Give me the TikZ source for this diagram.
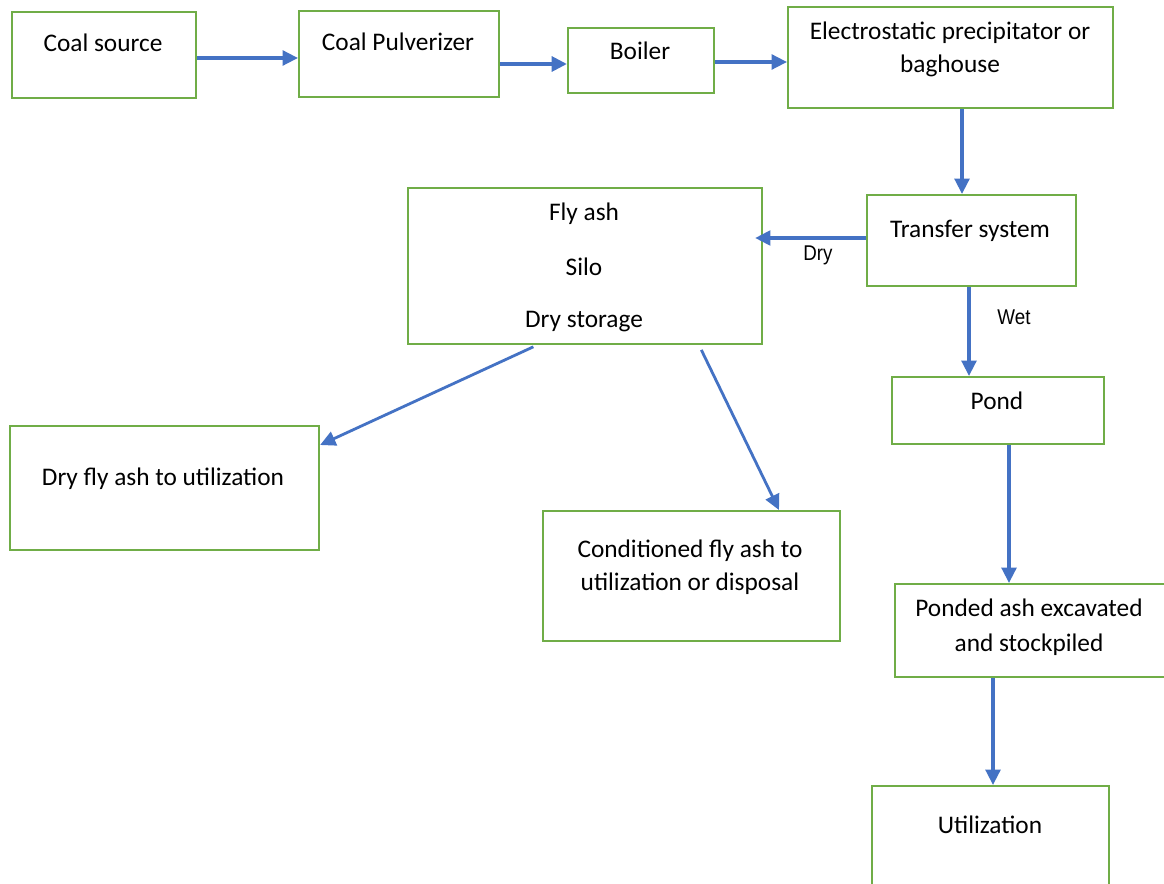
\documentclass[tikz,border=0pt]{standalone}
\usepackage{fontspec}
\setmainfont{Carlito}
\newfontfamily\narrowfont[FakeStretch=0.88]{Liberation Sans}
\usetikzlibrary{arrows.meta}
\definecolor{boxgreen}{HTML}{70AD47}
\definecolor{arrowblue}{HTML}{4472C4}
\tikzset{
  box/.style={draw=boxgreen, line width=1.6pt, anchor=north west, inner sep=0pt},
  bx/.style 2 args={minimum width=#1*0.75pt, minimum height=#2*0.75pt},
  txt/.style={anchor=base, font=\fontsize{19}{24.75}\selectfont, align=center, inner sep=0pt},
  flow/.style={draw=arrowblue, line width=2.5pt, -{Triangle[length=11.5pt,width=11pt]}},
  lbl/.style={anchor=base, font=\narrowfont\fontsize{16}{18}\selectfont, inner sep=0pt}
}
\begin{document}
\begin{tikzpicture}[x=0.75pt, y=-0.75pt]
\useasboundingbox[fill=white] (0,0) rectangle (1164,884);
% boxes
\node[box, bx={184}{86}] (cs) at (11,11) {};
\node[box, bx={200}{86}] (cp) at (298,10) {};
\node[box, bx={146}{65}] (bo) at (567,27) {};
\node[box, bx={325}{101}] (esp) at (787,6) {};
\node[box, bx={209}{91}] (ts) at (866,194) {};
\node[box, bx={354}{156}] (fa) at (407,187) {};
\node[box, bx={309}{124}] (dfa) at (9,425) {};
\node[box, bx={297}{130}] (cfa) at (542,510) {};
\node[box, bx={212}{67}] (pond) at (891,376) {};
\node[box, bx={270}{93}] (pae) at (894,583) {};
\node[box, bx={237}{130}] (util) at (871,785) {};
% texts
\node[txt] (tcs) at (103,52) {Coal source};
\node[txt] (tcp) at (398,51) {Coal Pulverizer};
\node[txt] (tbo) at (640,60) {Boiler};
\node[txt] (tesp1) at (950,40) {Electrostatic precipitator or};
\node[txt] (tesp2) at (950,73) {baghouse};
\node[txt] (tts) at (970,238) {Transfer system};
\node[txt] (tfa1) at (584,221) {Fly ash};
\node[txt] (tfa2) at (584,276) {Silo};
\node[txt] (tfa3) at (584,328) {Dry storage};
\node[txt] (tdfa) at (163,485) {Dry fly ash to utilization};
\node[txt] (tcfa1) at (690,557) {Conditioned fly ash to};
\node[txt] (tcfa2) at (690,590) {utilization or disposal};
\node[txt] (tpond) at (997,409) {Pond};
\node[txt] (tpae1) at (1029,616) {Ponded ash excavated};
\node[txt] (tpae2) at (1029,651) {and stockpiled};
\node[txt] (tutil) at (990,833) {Utilization};
\node[lbl] (ldry) at (818,261) {Dry};
\node[lbl] (lwet) at (1014,325) {Wet};
% connectors
\draw[flow] (cs.east |- 0,58) -- (cp.west |- 0,58);
\draw[flow, line width=3.2pt] (cp.east |- 0,64) -- (bo.west |- 0,64);
\draw[flow] (bo.east |- 0,62) -- (esp.west |- 0,62);
\draw[flow] (esp.south -| 962,0) -- (ts.north -| 962,0);
\draw[flow, shorten >=-6pt] (ts.west |- 0,238) -- (fa.east |- 0,238);
\draw[flow] (ts.south -| 969,0) -- (pond.north -| 969,0);
\draw[flow, line width=2.1pt, shorten <=3pt] (fa.south -| 537,0) -- (dfa.east |- 0,445);
\draw[flow, line width=2.1pt, shorten <=4pt] (fa.south -| 699,0) -- (cfa.north -| 779,0);
\draw[flow] (pond.south -| 1009,0) -- (pae.north -| 1009,0);
\draw[flow] (pae.south -| 993,0) -- (util.north -| 993,0);
\end{tikzpicture}
\end{document}
